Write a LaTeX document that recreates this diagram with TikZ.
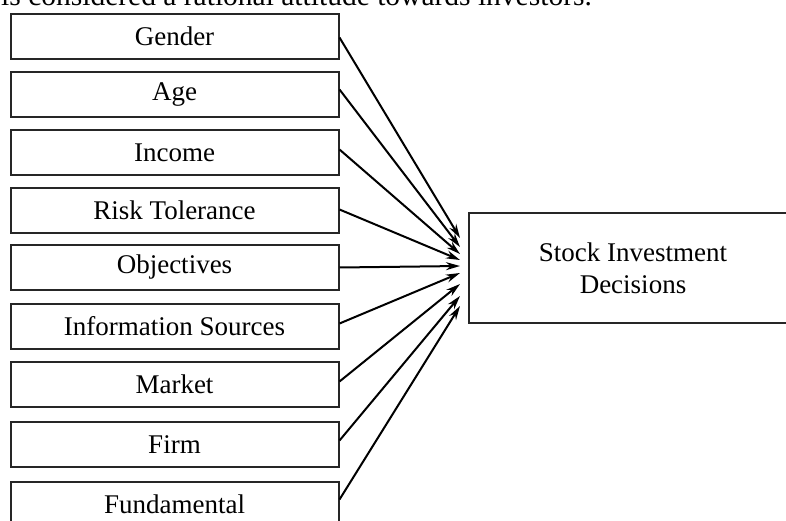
\documentclass[tikz,border=0pt]{standalone}
\usepackage{fontspec}
\setmainfont{Liberation Serif}
\usetikzlibrary{arrows.meta,calc}
\begin{document}
\begin{tikzpicture}[x=1pt,y=-1pt,
  factor/.style={draw=black!85,line width=2pt,minimum width=328pt,minimum height=45pt,inner sep=0pt,anchor=north west,font=\fontsize{27}{31}\selectfont},
  target/.style={draw=black!85,line width=2pt,minimum width=328pt,minimum height=110pt,inner sep=0pt,anchor=north west,align=center,font=\fontsize{27}{32}\selectfont},
  link/.style={line width=2pt,-{Stealth[length=14pt,width=8pt]}}]
\useasboundingbox (0,0) rectangle (786,521);
\clip (0,0) rectangle (786,521);
\node[anchor=base west,inner sep=0pt,font=\fontsize{29.5}{32}\selectfont] (top) at (1,6) {is considered a rational attitude towards investors.};
\node[factor] (f1) at (9.5,13) {Gender};
\node[factor] (f2) at (9.5,71) {Age};
\node[factor] (f3) at (9.5,129) {Income};
\node[factor] (f4) at (9.5,187) {Risk Tolerance};
\node[factor] (f5) at (9.5,244) {Objectives};
\node[factor] (f6) at (9.5,303) {Information Sources};
\node[factor] (f7) at (9.5,361) {Market};
\node[factor] (f8) at (9.5,421) {Firm};
\node[factor] (f9) at (9.5,481) {Fundamental};
\node[target] (sid) at (468,212) {Stock Investment\\Decisions};
\coordinate (e1) at (460,238);
\coordinate (e2) at (460,247);
\coordinate (e3) at (460,254);
\coordinate (e4) at (460,260);
\coordinate (e5) at (460,266);
\coordinate (e6) at (460,273);
\coordinate (e7) at (460,284);
\coordinate (e8) at (460,296);
\coordinate (e9) at (460,306);
\draw[link] ($(f1.east)+(0,1)$) -- (e1);
\draw[link] ($(f2.east)+(0,-5)$) -- (e2);
\draw[link] ($(f3.east)+(0,-3)$) -- (e3);
\draw[link] ($(f4.east)+(0,-1)$) -- (e4);
\draw[link] ($(f5.east)+(0,0)$) -- (e5);
\draw[link] ($(f6.east)+(0,-3)$) -- (e6);
\draw[link] ($(f7.east)+(0,-3)$) -- (e7);
\draw[link] ($(f8.east)+(0,-4)$) -- (e8);
\draw[link] ($(f9.east)+(0,-5)$) -- (e9);
\end{tikzpicture}
\end{document}
